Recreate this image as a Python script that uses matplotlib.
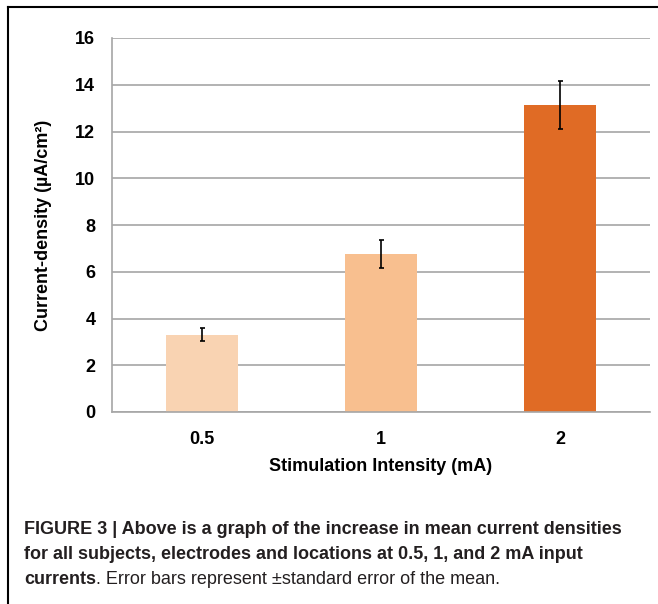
import matplotlib
matplotlib.use("Agg")
import matplotlib.pyplot as plt
from matplotlib.lines import Line2D

categories = ["0.5", "1", "2"]
values = [3.30, 6.76, 13.13]
errors = [0.28, 0.58, 1.01]
colors = ["#F9D3B2", "#F8BF8F", "#E06B25"]
yticks = [0, 2, 4, 6, 8, 10, 12, 14, 16]

plt.rcParams['font.family'] = ['Liberation Sans', 'DejaVu Sans']

fig = plt.figure(figsize=(6.58, 6.04), dpi=100)
W, H = 658, 604
ax = fig.add_axes([112 / W, 1 - 412 / H, (650 - 112) / W, (412 - 38) / H])

x = list(range(len(categories)))
ax.bar(x, values, width=0.40, color=colors, zorder=2)
ax.errorbar(x, values, yerr=errors, fmt='none', ecolor='black',
            elinewidth=1.2, capsize=1.8, capthick=1.2, zorder=3)

ax.set_xlim(-0.5, 2.5)
ax.set_ylim(0, 16)
ax.set_yticks(yticks)
ax.set_xticks(x)
ax.set_xticklabels(categories)
ax.yaxis.grid(True, color='#A6A6A6', linewidth=1.2, zorder=0)
ax.set_axisbelow(True)
for s in ['top', 'right']:
    ax.spines[s].set_visible(False)
for s in ['left', 'bottom']:
    ax.spines[s].set_color('#A6A6A6')
    ax.spines[s].set_linewidth(1.2)
ax.tick_params(axis='both', length=0, labelsize=13)
ax.tick_params(axis='y', pad=12)
ax.tick_params(axis='x', pad=14)
for lab in ax.get_xticklabels() + ax.get_yticklabels():
    lab.set_fontweight('bold')

ax.set_xlabel("Stimulation Intensity (mA)", fontsize=13, fontweight='bold', labelpad=7)
ax.set_ylabel("Current-density (µA/cm²)", fontsize=13, fontweight='bold', labelpad=17)

# Frame lines (left and top)
fig.add_artist(Line2D([8 / W, 8 / W], [0, 1 - 7 / H], transform=fig.transFigure, color='black', lw=1.5))
fig.add_artist(Line2D([8 / W, 1], [1 - 7 / H, 1 - 7 / H], transform=fig.transFigure, color='black', lw=1.5))

# Caption
cap_font = ['Liberation Sans', 'DejaVu Sans']
fs = 13
x0 = 24 / W
fig.text(x0, 1 - 534 / H, "FIGURE 3 | Above is a graph of the increase in mean current densities",
         fontsize=fs, fontweight='bold', family=cap_font, va='baseline', color='#231F20')
fig.text(x0, 1 - 559 / H, "for all subjects, electrodes and locations at 0.5, 1, and 2 mA input",
         fontsize=fs, fontweight='bold', family=cap_font, va='baseline', color='#231F20')
t1 = fig.text(x0, 1 - 584 / H, "currents", fontsize=fs, fontweight='bold',
              family=cap_font, va='baseline', color='#231F20')
fig.canvas.draw()
r = fig.canvas.get_renderer()
bb = t1.get_window_extent(r)
fig.text(bb.x1 / W, 1 - 584 / H, ". Error bars represent ±standard error of the mean.",
         fontsize=fs, family=cap_font, va='baseline', color='#231F20')

fig.savefig("out.png", dpi=100)
